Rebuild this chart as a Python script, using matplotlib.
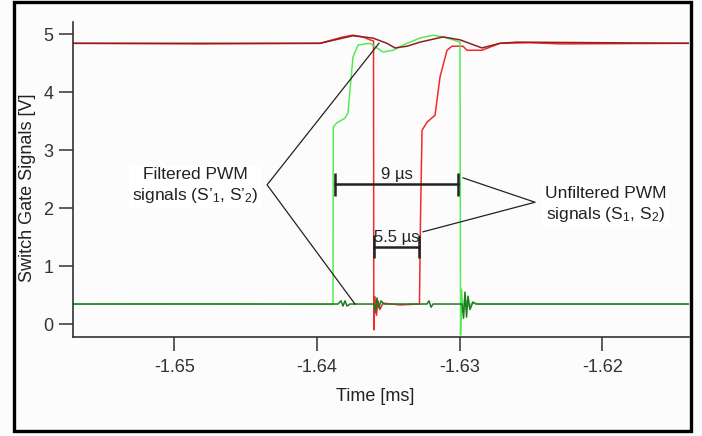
import matplotlib
matplotlib.use('Agg')
import matplotlib.pyplot as plt
from matplotlib.patches import Rectangle

plt.rcParams['font.family'] = ['Liberation Sans', 'DejaVu Sans']
plt.rcParams['mathtext.fontset'] = 'custom'
plt.rcParams['mathtext.rm'] = 'Liberation Sans'
plt.rcParams['mathtext.it'] = 'Liberation Sans:italic'

# time in ms, signal in V
green_t = [-1.65710, -1.64820, -1.63888, -1.63886, -1.63860, -1.63804, -1.63783, -1.63769,
           -1.63748, -1.63713, -1.63629, -1.63580, -1.63538, -1.63467, -1.63369, -1.63278,
           -1.63187, -1.63117, -1.63047, -1.62998, -1.62994, -1.62987, -1.62977, -1.62963,
           -1.62942, -1.62914, -1.62858, -1.61393]
green_v = [0.345, 0.35, 0.34, 3.40, 3.47, 3.55, 3.64, 4.03,
           4.60, 4.81, 4.84, 4.76, 4.69, 4.72, 4.84, 4.93,
           4.98, 4.95, 4.90, 4.86, -0.19, 0.60, 0.20, 0.45,
           0.30, 0.36, 0.345, 0.345]

red_t = [-1.65710, -1.64820, -1.63979, -1.63818, -1.63748, -1.63678, -1.63629, -1.63604,
         -1.63602, -1.63594, -1.63583, -1.63573, -1.63559, -1.63538, -1.63418, -1.63282,
         -1.63275, -1.63264, -1.63229, -1.63173, -1.63159, -1.63138, -1.63089, -1.63054,
         -1.62977, -1.62949, -1.62844, -1.62718, -1.62507, -1.62297, -1.61393]
red_v = [4.84, 4.83, 4.84, 4.95, 4.98, 4.95, 4.90, 4.88,
         -0.10, 0.47, 0.15, 0.40, 0.25, 0.36, 0.33, 0.345,
         1.79, 3.34, 3.48, 3.60, 3.86, 4.26, 4.72, 4.79,
         4.79, 4.72, 4.72, 4.84, 4.85, 4.83, 4.84]

dkred_t = [-1.65710, -1.63979, -1.63748, -1.63678, -1.63608, -1.63510, -1.63453, -1.63369,
           -1.63278, -1.63117, -1.62998, -1.62844, -1.62718, -1.62599, -1.61393]
dkred_v = [4.84, 4.84, 4.97, 4.95, 4.93, 4.84, 4.76, 4.79,
           4.86, 4.95, 4.90, 4.76, 4.84, 4.86, 4.84]

dkgreen_t = [-1.65710, -1.63853, -1.63832, -1.63818, -1.63804, -1.63790, -1.63769, -1.63601,
             -1.63590, -1.63580, -1.63566, -1.63552, -1.63531, -1.63229, -1.63215, -1.63201,
             -1.63187, -1.62984, -1.62973, -1.62963, -1.62952, -1.62942, -1.62928, -1.62907,
             -1.62886, -1.61393]
dkgreen_v = [0.345, 0.345, 0.40, 0.31, 0.40, 0.31, 0.345, 0.345,
             0.20, 0.45, 0.28, 0.40, 0.345, 0.345, 0.40, 0.29,
             0.345, 0.345, 0.10, 0.55, 0.12, 0.48, 0.25, 0.38,
             0.345, 0.345]

x_ticks = [-1.65, -1.64, -1.63, -1.62]
x_ticklabels = ['-1.65', '-1.64', '-1.63', '-1.62']
y_ticks = [0, 1, 2, 3, 4, 5]

# measurement bars: (start, end, level, label)
bar_9us = (-1.63874, -1.63012, 2.41, '9 µs')
bar_55us = (-1.63601, -1.63285, 1.33, '5.5 µs')

fig = plt.figure(figsize=(7.02, 4.36), dpi=100)
fig.patch.set_facecolor('#fcfcfc')
ax = fig.add_axes([0.104, 0.227, 0.8775, 0.7225])
ax.set_facecolor('#fcfcfc')

ax.plot(red_t, red_v, color='#f42a2a', lw=1.1)
ax.plot(green_t, green_v, color='#55ea55', lw=1.1)
ax.plot(dkred_t, dkred_v, color='#8e1f1f', lw=1.1)
ax.plot(dkgreen_t, dkgreen_v, color='#1f7a1f', lw=1.1)

ax.set_xlim(-1.65710, -1.61393)
ax.set_ylim(-0.224, 5.207)
ax.set_xticks(x_ticks)
ax.set_xticklabels(x_ticklabels)
ax.set_yticks(y_ticks)

for side in ['top', 'right']:
    ax.spines[side].set_visible(False)
for side in ['left', 'bottom']:
    ax.spines[side].set_color('#333333')
    ax.spines[side].set_linewidth(1.2)
ax.tick_params(axis='both', direction='out', length=10, width=1.1, color='#333333',
               labelsize=13, labelcolor='#333333')
ax.tick_params(axis='y', pad=4)
ax.tick_params(axis='x', pad=6)

ax.set_xlabel('Time [ms]', fontsize=13, color='#222222')
ax.set_ylabel('Switch Gate Signals [V]', fontsize=13, color='#222222')
ax.xaxis.set_label_coords(0.49, -0.163)
ax.yaxis.set_label_coords(-0.06, 0.475)

ink = '#222222'
# filtered label and its pointers
ax.plot([-1.63566, -1.64350, -1.63734], [4.84, 2.40, 0.345], color=ink, lw=0.9)
ax.text(-1.64855, 2.38, 'Filtered PWM\nsignals (S’$_1$, S’$_2$)', ha='center', va='center',
        fontsize=12.5, color=ink, linespacing=1.3,
        bbox=dict(facecolor='white', edgecolor='none', pad=2))

# unfiltered label and its pointers
ax.plot([-1.62977, -1.62472, -1.63257], [2.52, 2.10, 1.59], color=ink, lw=0.9)
ax.text(-1.61975, 2.05, 'Unfiltered PWM\nsignals (S$_1$, S$_2$)', ha='center', va='center',
        fontsize=12.5, color=ink, linespacing=1.3,
        bbox=dict(facecolor='white', edgecolor='none', pad=2))

for t0, t1, lev, lab in [bar_9us, bar_55us]:
    ax.plot([t0, t1], [lev, lev], color=ink, lw=1.8)
    ax.vlines([t0, t1], lev - 0.2, lev + 0.2, color=ink, lw=1.8)
    ax.text((t0 + t1) / 2, lev + 0.04, lab, ha='center', va='bottom', fontsize=12, color=ink)

fig.patches.append(Rectangle((0.02, 0.0115), 0.964, 0.984, transform=fig.transFigure,
                             fill=False, lw=2.4, ec='black'))

fig.savefig('out.png', dpi=100)
